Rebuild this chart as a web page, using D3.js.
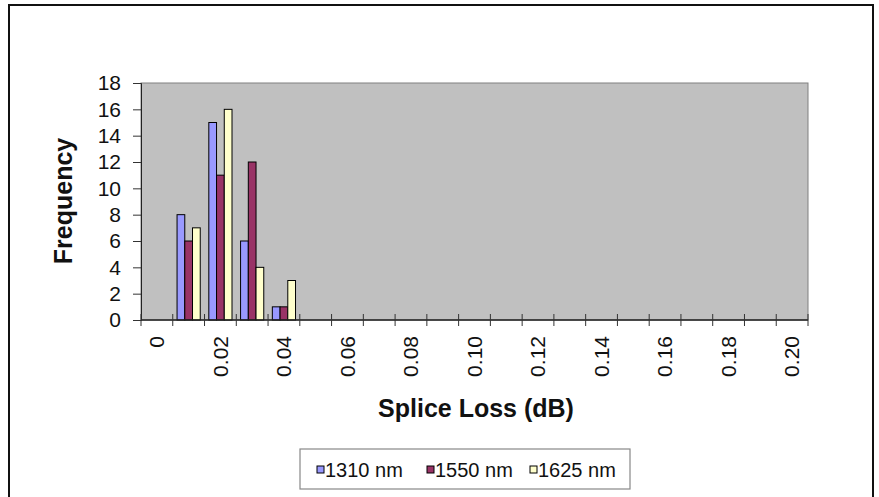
<!DOCTYPE html>
<html><head><meta charset="utf-8">
<script src="https://cdn.jsdelivr.net/npm/d3@7"></script>
<style>html,body{margin:0;padding:0;background:#fff;}svg{display:block;font-family:"Liberation Sans",Arial,sans-serif;}</style>
</head><body>
<script>
const categories = ["0","0.01","0.02","0.03","0.04","0.05","0.06","0.07","0.08","0.09","0.10","0.11","0.12","0.13","0.14","0.15","0.16","0.17","0.18","0.19","0.20"];
const tickLabels = ["0","0.02","0.04","0.06","0.08","0.10","0.12","0.14","0.16","0.18","0.20"];
const seriesNames = ["1310 nm","1550 nm","1625 nm"];
const s1310 = [0,8,15,6,1,0,0,0,0,0,0,0,0,0,0,0,0,0,0,0,0];
const s1550 = [0,6,11,12,1,0,0,0,0,0,0,0,0,0,0,0,0,0,0,0,0];
const s1625 = [0,7,16,4,3,0,0,0,0,0,0,0,0,0,0,0,0,0,0,0,0];
const yTicks = [0,2,4,6,8,10,12,14,16,18];
const colors = ["#9999ff","#993366","#ffffcc"];

const W = 879, H = 497;
const svg = d3.select("body").append("svg").attr("width", W).attr("height", H);

// outer frame
svg.append("path").attr("d", `M9,497 V5 H873 V497`).attr("fill","none").attr("stroke","#111").attr("stroke-width",2);

const plot = {l:141, r:808, t:83, b:320};
const x = d3.scaleBand().domain(categories).range([plot.l, plot.r]).padding(0);
const y = d3.scaleLinear().domain([0,18]).range([plot.b, plot.t]);
const bw = x.bandwidth();
const xs = d3.scaleBand().domain(seriesNames).range([bw*0.135, bw*0.865]).padding(0);

svg.append("rect").attr("x",plot.l).attr("y",plot.t).attr("width",plot.r-plot.l).attr("height",plot.b-plot.t)
  .attr("fill","#c0c0c0").attr("stroke","#808080").attr("stroke-width",1);

const data = [s1310, s1550, s1625];
data.forEach((vals, si) => {
  svg.append("g").selectAll("rect").data(categories.map((c,i)=>({c, v: vals[i]})).filter(d=>d.v>0))
    .join("rect")
    .attr("x", d => x(d.c) + xs(seriesNames[si]))
    .attr("y", d => y(d.v))
    .attr("width", xs.bandwidth())
    .attr("height", d => y(0) - y(d.v))
    .attr("fill", colors[si]).attr("stroke","#000").attr("stroke-width",1);
});

// y axis
const yAxis = svg.append("g").attr("transform",`translate(${plot.l},0)`)
  .call(d3.axisLeft(y).tickValues(yTicks).tickSize(8).tickPadding(12).tickFormat(d3.format("d")));
yAxis.select(".domain").attr("stroke","#222");
yAxis.selectAll(".tick line").attr("stroke","#333");
yAxis.selectAll("text").attr("font-size",21).attr("fill","#111").attr("font-family","Liberation Sans, Arial, sans-serif");

// x axis: ticks at band boundaries
const bounds = categories.map(c => x(c)).concat([plot.r]);
const xg = svg.append("g");
xg.append("line").attr("x1",plot.l).attr("x2",plot.r).attr("y1",plot.b).attr("y2",plot.b).attr("stroke","#222").attr("stroke-width",1.5);
xg.selectAll("line.t").data(bounds).join("line").attr("class","t")
  .attr("x1",d=>d).attr("x2",d=>d).attr("y1",plot.b-6).attr("y2",plot.b+6).attr("stroke","#333");
xg.selectAll("text").data(categories.filter(c => tickLabels.includes(c))).join("text")
  .attr("transform", d => `translate(${x(d)+bw/2},336) rotate(-90)`)
  .attr("text-anchor","end").attr("dy","0.35em")
  .attr("font-size",21).attr("fill","#111").text(d => d);

// axis titles
svg.append("text").attr("x",476).attr("y",417).attr("text-anchor","middle")
  .attr("font-size",25).attr("font-weight","bold").attr("fill","#111").text("Splice Loss (dB)");
svg.append("text").attr("transform","translate(72,201) rotate(-90)").attr("text-anchor","middle")
  .attr("font-size",25).attr("font-weight","bold").attr("fill","#111").text("Frequency");

// legend
const lg = svg.append("g");
lg.append("rect").attr("x",300).attr("y",449).attr("width",330).attr("height",40)
  .attr("fill","#fff").attr("stroke","#888").attr("stroke-width",1.2);
const lx = [317, 427, 530];
seriesNames.forEach((n,i) => {
  lg.append("rect").attr("x",lx[i]).attr("y",466).attr("width",7).attr("height",7)
    .attr("fill",colors[i]).attr("stroke","#000").attr("stroke-width",1);
  lg.append("text").attr("x",lx[i]+8).attr("y",470).attr("dy","0.35em")
    .attr("font-size",20).attr("fill","#111").text(n);
});
</script>
</body></html>
